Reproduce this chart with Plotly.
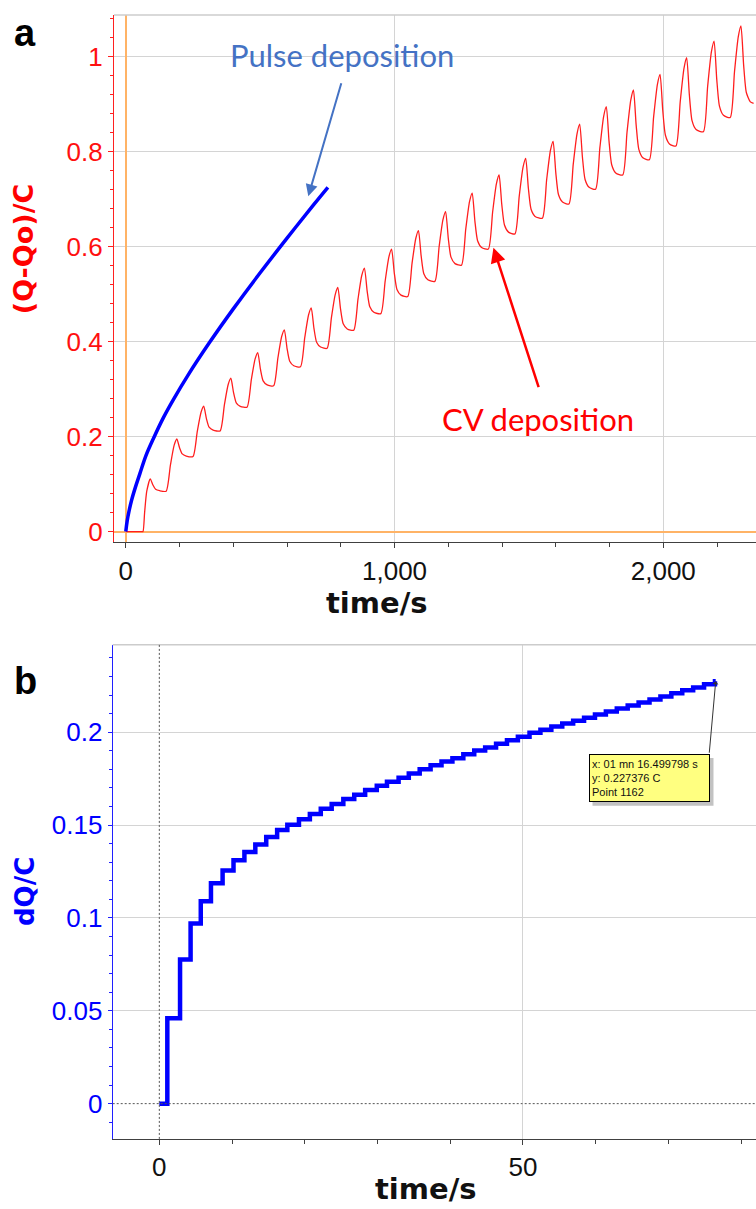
import plotly.graph_objects as go

# ---------------- data ----------------
# Panel a: CV deposition (time/s, (Q-Qo)/C)
cv_time = [0, 60, 64, 70, 78,
           91, 101, 111, 126, 150, 166, 180,
           190, 200, 210, 225, 250, 266, 280,
           290, 300, 310, 325, 351, 367, 381,
           391, 401, 411, 426, 451, 467, 481,
           491, 501, 511, 526, 550, 566, 580,
           590, 600, 610, 625, 650, 666, 680,
           690, 700, 710, 725, 749, 765, 779,
           789, 799, 809, 824, 848, 864, 878,
           888, 898, 908, 923, 949, 965, 979,
           989, 999, 1009, 1024, 1049, 1065, 1079,
           1089, 1099, 1109, 1124, 1150, 1166, 1180,
           1190, 1200, 1210, 1225, 1249, 1265, 1279,
           1289, 1299, 1309, 1324, 1349, 1365, 1379,
           1389, 1399, 1409, 1424, 1448, 1464, 1478,
           1488, 1498, 1508, 1523, 1550, 1566, 1580,
           1590, 1600, 1610, 1625, 1649, 1665, 1679,
           1689, 1699, 1709, 1724, 1748, 1764, 1778,
           1788, 1798, 1808, 1823, 1849, 1865, 1879,
           1889, 1899, 1909, 1924, 1948, 1964, 1978,
           1988, 1998, 2008, 2023, 2047, 2063, 2077,
           2087, 2097, 2107, 2122, 2149, 2165, 2179,
           2189, 2199, 2209, 2224, 2249, 2265, 2279,
           2289, 2299, 2309, 2324, 2336]
cv_charge = [0, 0, 0, 0.04, 0.085,
             0.111, 0.098, 0.089, 0.086, 0.085, 0.140, 0.182,
             0.195, 0.1765, 0.1636, 0.1591, 0.158, 0.211, 0.2513,
             0.264, 0.238, 0.2198, 0.2136, 0.212, 0.2675, 0.3097,
             0.323, 0.2925, 0.2712, 0.2638, 0.262, 0.3195, 0.3632,
             0.377, 0.342, 0.3175, 0.3091, 0.307, 0.366, 0.4108,
             0.425, 0.386, 0.3587, 0.3493, 0.347, 0.409, 0.4561,
             0.471, 0.4285, 0.3988, 0.3886, 0.386, 0.450, 0.4986,
             0.514, 0.469, 0.4375, 0.4267, 0.424, 0.4895, 0.5393,
             0.555, 0.507, 0.4734, 0.4619, 0.459, 0.527, 0.5787,
             0.595, 0.545, 0.510, 0.498, 0.495, 0.5645, 0.6173,
             0.634, 0.5805, 0.5431, 0.5302, 0.527, 0.6005, 0.6564,
             0.674, 0.6175, 0.578, 0.5644, 0.561, 0.637, 0.6948,
             0.713, 0.654, 0.6127, 0.5985, 0.595, 0.673, 0.7323,
             0.751, 0.689, 0.6456, 0.6307, 0.627, 0.7065, 0.7669,
             0.786, 0.723, 0.6789, 0.6638, 0.660, 0.741, 0.8026,
             0.822, 0.756, 0.7098, 0.694, 0.690, 0.774, 0.8378,
             0.858, 0.7895, 0.7416, 0.7251, 0.721, 0.808, 0.8741,
             0.895, 0.823, 0.7726, 0.7553, 0.751, 0.8405, 0.9085,
             0.930, 0.8565, 0.8051, 0.7874, 0.783, 0.873, 0.9414,
             0.963, 0.8875, 0.8347, 0.8165, 0.812, 0.905, 0.9757,
             0.998, 0.920, 0.8654, 0.8467, 0.842, 0.9375, 1.0101,
             1.033, 0.9525, 0.8962, 0.8768, 0.872, 0.9685, 1.0418,
             1.065, 0.9825, 0.9248, 0.905, 0.902]

# Panel a: pulse deposition
pulse_time = [0, 5, 12, 22, 35, 53, 75, 102, 140, 177, 230, 312, 400, 500, 600, 700, 752]
pulse_charge = [0, 0.022, 0.043, 0.067, 0.092, 0.123, 0.160, 0.195, 0.240, 0.278,
                0.328, 0.3985, 0.469, 0.545, 0.618, 0.689, 0.725]

# Panel b: dQ (step levels)
dq_time = [0, 1.1, 2.85, 4.3, 5.7, 7.1, 8.7, 10.2, 11.7, 13.2, 14.7, 16.2,
           17.6, 19.2, 20.7, 22.2, 23.7, 25.3, 26.8, 28.3, 29.9, 31.3, 32.9, 34.3,
           35.8, 37.3, 38.8, 40.3, 41.8, 43.3, 44.8, 46.3, 47.8, 49.3, 50.9,
           52.4, 53.9, 55.4, 56.9, 58.4, 59.9, 61.4, 62.9, 64.4, 65.9, 67.4, 68.9,
           70.4, 71.9, 73.4, 74.9, 76.4, 76.5]
dq_charge = [0, 0.046, 0.0776, 0.097, 0.109, 0.1187, 0.1255, 0.131, 0.1355, 0.1395, 0.1435, 0.1473,
             0.1502, 0.1531, 0.1559, 0.1588, 0.1613, 0.1640, 0.1663, 0.1688, 0.1711, 0.1733, 0.1754, 0.1777,
             0.1800, 0.1822, 0.1842, 0.1860, 0.1881, 0.1901, 0.1918, 0.1938, 0.1957, 0.1975, 0.1997,
             0.2013, 0.2030, 0.2046, 0.2062, 0.2078, 0.2095, 0.2111, 0.2127, 0.2144, 0.2160, 0.2176, 0.2192,
             0.2209, 0.2225, 0.2241, 0.2258, 0.2274, 0.2274]

tooltip_lines = ["x: 01 mn 16.499798 s", "y: 0.227376 C", "Point 1162"]

# ---------------- figure ----------------
W, H = 756, 1209
def px(x):
    return x / W
def py(y):
    return 1 - y / H

TICKFONT = "Liberation Sans, Arial, sans-serif"
TITLEFONT = "DejaVu Sans, Verdana, sans-serif"
CALLFONT = "Lato, Open Sans, sans-serif"
GRID = "#d4d4d4"

fig = go.Figure()
fig.add_trace(go.Scatter(x=cv_time, y=cv_charge, mode="lines",
                         line=dict(color="#FF1E1E", width=1.3, shape="spline", smoothing=0.6),
                         xaxis="x", yaxis="y", hoverinfo="skip"))
fig.add_trace(go.Scatter(x=pulse_time, y=pulse_charge, mode="lines",
                         line=dict(color="#0000FF", width=3.5, shape="spline", smoothing=1),
                         xaxis="x", yaxis="y", hoverinfo="skip"))
fig.add_trace(go.Scatter(x=dq_time, y=dq_charge, mode="lines",
                         line=dict(color="#0000FF", width=4.5, shape="hv"),
                         xaxis="x2", yaxis="y2", hoverinfo="skip"))

fig.update_layout(
    width=W, height=H, margin=dict(l=0, r=0, t=0, b=0),
    paper_bgcolor="white", plot_bgcolor="white", showlegend=False,
    xaxis=dict(domain=[px(114), 1], anchor="y", range=[-43.9, 2345],
               tick0=0, dtick=1000, tickformat=",",
               showgrid=True, gridcolor=GRID, gridwidth=1.3,
               zeroline=True, zerolinecolor="#FFB366", zerolinewidth=1.6,
               showline=True, linecolor="#404040", linewidth=1.3,
               ticks="outside", ticklen=5, tickcolor="#404040",
               tickfont=dict(family=TICKFONT, size=26, color="#111111"),
               minor=dict(dtick=200, ticks="outside", ticklen=4, tickcolor="#404040", showgrid=False)),
    yaxis=dict(domain=[py(544), py(15)], anchor="x", range=[-0.0224, 1.0881],
               tick0=0, dtick=0.2,
               showgrid=True, gridcolor=GRID, gridwidth=1.3,
               zeroline=True, zerolinecolor="#FFB366", zerolinewidth=1.6,
               showline=True, linecolor="#FF2020", linewidth=1.2,
               ticks="outside", ticklen=5, tickcolor="#FF2020",
               tickfont=dict(family=TICKFONT, size=26, color="#FF1010"),
               minor=dict(dtick=0.04, ticks="outside", ticklen=3, tickcolor="#FF2020", showgrid=False)),
    xaxis2=dict(domain=[px(112.7), 1], anchor="y2", range=[-6.41, 82.04],
                tick0=0, dtick=50,
                showgrid=True, gridcolor=GRID, gridwidth=1.3,
                zeroline=True, zerolinecolor="rgba(255,255,255,1)", zerolinewidth=1,
                showline=True, linecolor="#404040", linewidth=1.3,
                ticks="outside", ticklen=5, tickcolor="#404040",
                tickfont=dict(family=TICKFONT, size=26, color="#111111"),
                minor=dict(dtick=10, ticks="outside", ticklen=4, tickcolor="#404040", showgrid=False)),
    yaxis2=dict(domain=[py(1142.7), py(647)], anchor="x2", range=[-0.019, 0.247],
                tick0=0, dtick=0.05,
                showgrid=True, gridcolor=GRID, gridwidth=1.3,
                zeroline=True, zerolinecolor="rgba(255,255,255,1)", zerolinewidth=1,
                showline=True, linecolor="#2020FF", linewidth=1.2,
                ticks="outside", ticklen=4, tickcolor="#2020FF",
                tickfont=dict(family=TICKFONT, size=26, color="#0000FF"),
                minor=dict(dtick=0.01, ticks="outside", ticklen=3, tickcolor="#2020FF", showgrid=False)),
)

shapes = [
    dict(type="line", xref="x domain", yref="y domain", x0=0, x1=1, y0=1, y1=1,
         line=dict(color="#cccccc", width=1.5)),
    dict(type="line", xref="x2 domain", yref="y2 domain", x0=0, x1=1, y0=1, y1=1,
         line=dict(color="#cccccc", width=1.5)),
    dict(type="line", xref="x2", yref="y2 domain", x0=0, x1=0, y0=0, y1=1,
         line=dict(color="#555555", width=1, dash="2px,2px")),
    dict(type="line", xref="x2 domain", yref="y2", x0=0, x1=1, y0=0, y1=0,
         line=dict(color="#555555", width=1, dash="2px,2px")),
    # tooltip shadow
    dict(type="rect", xref="paper", yref="paper",
         x0=px(592.5), x1=px(713.5), y0=py(808.5), y1=py(760.5),
         fillcolor="rgba(120,120,120,0.45)", line=dict(width=0)),
]
fig.update_layout(shapes=shapes)


def label(text, x, y, font, **kw):
    d = dict(text=text, x=px(x), y=py(y), xref="paper", yref="paper",
             xanchor="center", yanchor="middle", showarrow=False, font=font)
    d.update(kw)
    return d


ann = []
# panel letters
ann.append(label("<b>a</b>", 25, 33, dict(family=TICKFONT, size=38, color="black")))
ann.append(label("<b>b</b>", 25, 683, dict(family=TICKFONT, size=38, color="black")))
# axis titles
ann.append(label("<b>(Q-Qo)/C</b>", 23, 250, dict(family=TITLEFONT, size=27, color="#FF0000"),
                 textangle=-90))
ann.append(label("<b>time/s</b>", 377, 605, dict(family=TITLEFONT, size=29, color="#111111")))
ann.append(label("<b>dQ/C</b>", 25, 895, dict(family=TITLEFONT, size=26, color="#0000FF"),
                 textangle=-90))
ann.append(label("<b>time/s</b>", 426, 1193, dict(family=TITLEFONT, size=29, color="#111111")))
# callouts
ann.append(label("Pulse deposition", 342, 55, dict(family=CALLFONT, size=31, color="#4472C4")))
ann.append(label("CV deposition", 538, 420, dict(family=CALLFONT, size=31, color="#FF0000")))
ann.append(dict(text="", x=679, y=0.706, ax=803.5, ay=0.9475, xref="x", yref="y",
                axref="x", ayref="y", showarrow=True, arrowhead=2, arrowsize=1.2,
                arrowwidth=2, arrowcolor="#4472C4", standoff=0))
ann.append(dict(text="", x=1368, y=0.598, ax=1538, ay=0.301, xref="x", yref="y",
                axref="x", ayref="y", showarrow=True, arrowhead=2, arrowsize=1.2,
                arrowwidth=2.5, arrowcolor="#FF0000", standoff=0))
# tooltip
ann.append(dict(text="<br>".join(tooltip_lines), x=px(588.5), y=py(756.7), xref="paper", yref="paper",
                xanchor="left", yanchor="top", showarrow=False, align="left",
                width=115, height=42, borderpad=2, borderwidth=1, bordercolor="#000000",
                bgcolor="#FFFF80", font=dict(family=TICKFONT, size=11, color="#111111")))
ann.append(dict(text="", x=dq_time[-1], y=dq_charge[-1], ax=75.6, ay=0.1881,
                xref="x2", yref="y2", axref="x2", ayref="y2", showarrow=True,
                arrowhead=1, arrowsize=1, arrowwidth=1, arrowcolor="#333333", standoff=0))
fig.update_layout(annotations=ann)

fig.write_html("out.html")
